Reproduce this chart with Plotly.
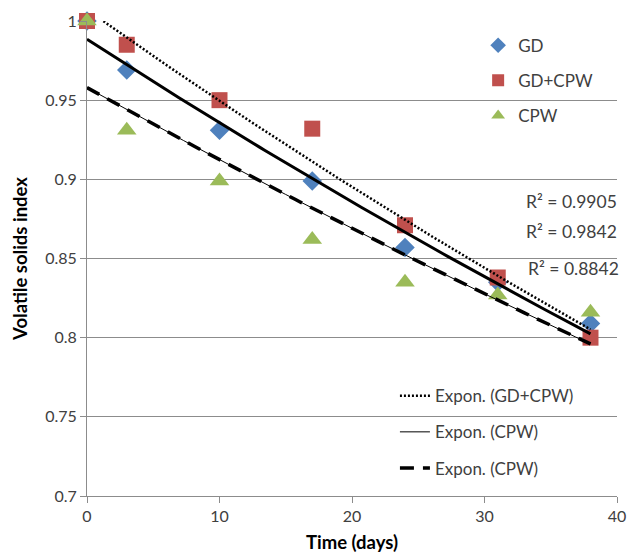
import numpy as np
import plotly.graph_objects as go

days = [0, 3, 10, 17, 24, 31, 38]
gd = [1.0, 0.969, 0.931, 0.899, 0.857, 0.835, 0.809]
gd_cpw = [1.0, 0.985, 0.950, 0.932, 0.871, 0.838, 0.800]
cpw = [1.0, 0.931, 0.899, 0.862, 0.835, 0.827, 0.816]
r2_labels = ["R² = 0.9905", "R² = 0.9842", "R² = 0.8842"]
y_ticks = [0.7, 0.75, 0.8, 0.85, 0.9, 0.95, 1.0]
y_tick_text = ["0.7", "0.75", "0.8", "0.85", "0.9", "0.95", "1"]
x_ticks = [0, 10, 20, 30, 40]

FONT = "Lato"
GRID = "#8c8c8c"
TXT = "#404040"


def expfit(x, y):
    x = np.asarray(x, float)
    b, lna = np.polyfit(x, np.log(np.asarray(y, float)), 1)
    xs = np.linspace(min(x), max(x), 100)
    return xs, np.exp(lna) * np.exp(b * xs)


fig = go.Figure()

fig.add_trace(go.Scatter(x=days, y=gd, mode="markers", name="GD",
                         marker=dict(symbol="diamond", size=15, color="#4F81BD"),
                         cliponaxis=False, legend="legend", legendgroup="a"))
fig.add_trace(go.Scatter(x=days, y=gd_cpw, mode="markers", name="GD+CPW",
                         marker=dict(symbol="square", size=16, color="#C0504D"),
                         cliponaxis=False, legend="legend", legendgroup="b"))
fig.add_trace(go.Scatter(x=days, y=cpw, mode="markers", name="CPW",
                         marker=dict(symbol="triangle-up", size=17, color="#9BBB59"),
                         cliponaxis=False, legend="legend", legendgroup="c"))

xs, ys = expfit(days, gd)
fig.add_trace(go.Scatter(x=xs, y=ys, mode="lines", name="Expon. (GD)",
                         line=dict(color="black", width=3), showlegend=False))
xs, ys = expfit(days, gd_cpw)
fig.add_trace(go.Scatter(x=xs, y=ys, mode="lines", name="Expon. (GD+CPW)",
                         line=dict(color="black", width=2.5, dash="2px,2px"),
                         legend="legend2", legendgroup="d"))
xs, ys = expfit(days, cpw)
fig.add_trace(go.Scatter(x=xs, y=ys, mode="lines", name="Expon. (CPW)",
                         line=dict(color="black", width=1),
                         legend="legend2", legendgroup="e"))
fig.add_trace(go.Scatter(x=xs, y=ys, mode="lines", name="Expon. (CPW)",
                         line=dict(color="black", width=3.5, dash="14px,9px"),
                         legend="legend2", legendgroup="f"))

r2_y = [0.886, 0.867, 0.844]
r2_x = [1.004, 1.004, 1.008]
for t, yy, xx in zip(r2_labels, r2_y, r2_x):
    fig.add_annotation(x=xx, y=yy, xref="paper", yref="y", text=t, showarrow=False,
                       xanchor="right", yanchor="middle",
                       font=dict(family=FONT, size=17.5, color=TXT))

fig.update_layout(
    width=630, height=554,
    margin=dict(l=87, r=13, t=21, b=58, autoexpand=False),
    paper_bgcolor="white", plot_bgcolor="white",
    font=dict(family=FONT, size=15, color=TXT),
    legend=dict(x=0.738, y=0.986, xanchor="left", yanchor="top",
                bgcolor="rgba(0,0,0,0)", tracegroupgap=10, itemsizing="constant",
                font=dict(family=FONT, size=17, color=TXT)),
    legend2=dict(x=0.581, y=0.248, xanchor="left", yanchor="top",
                 bgcolor="rgba(0,0,0,0)", tracegroupgap=11,
                 font=dict(family=FONT, size=17, color=TXT)),
    xaxis=dict(range=[0, 40], tickvals=x_ticks, showgrid=False, zeroline=False,
               showline=True, linecolor=GRID, linewidth=1,
               ticks="outside", ticklen=6, tickcolor=GRID,
               tickfont=dict(family=FONT, size=16, color=TXT),
               title=dict(text="<b>Time (days)</b>", standoff=11,
                          font=dict(family=FONT, size=18.5, color="#000000"))),
    yaxis=dict(range=[0.7, 1.0], tickvals=y_ticks, ticktext=y_tick_text,
               showgrid=True, gridcolor=GRID, gridwidth=1, zeroline=False,
               showline=True, linecolor=GRID, linewidth=1,
               ticks="outside", ticklen=6, tickcolor=GRID,
               tickfont=dict(family=FONT, size=16, color=TXT),
               title=dict(text="<b>Volatile solids index</b>", standoff=12,
                          font=dict(family=FONT, size=18.5, color="#000000"))),
)

fig.write_html("out.html")
